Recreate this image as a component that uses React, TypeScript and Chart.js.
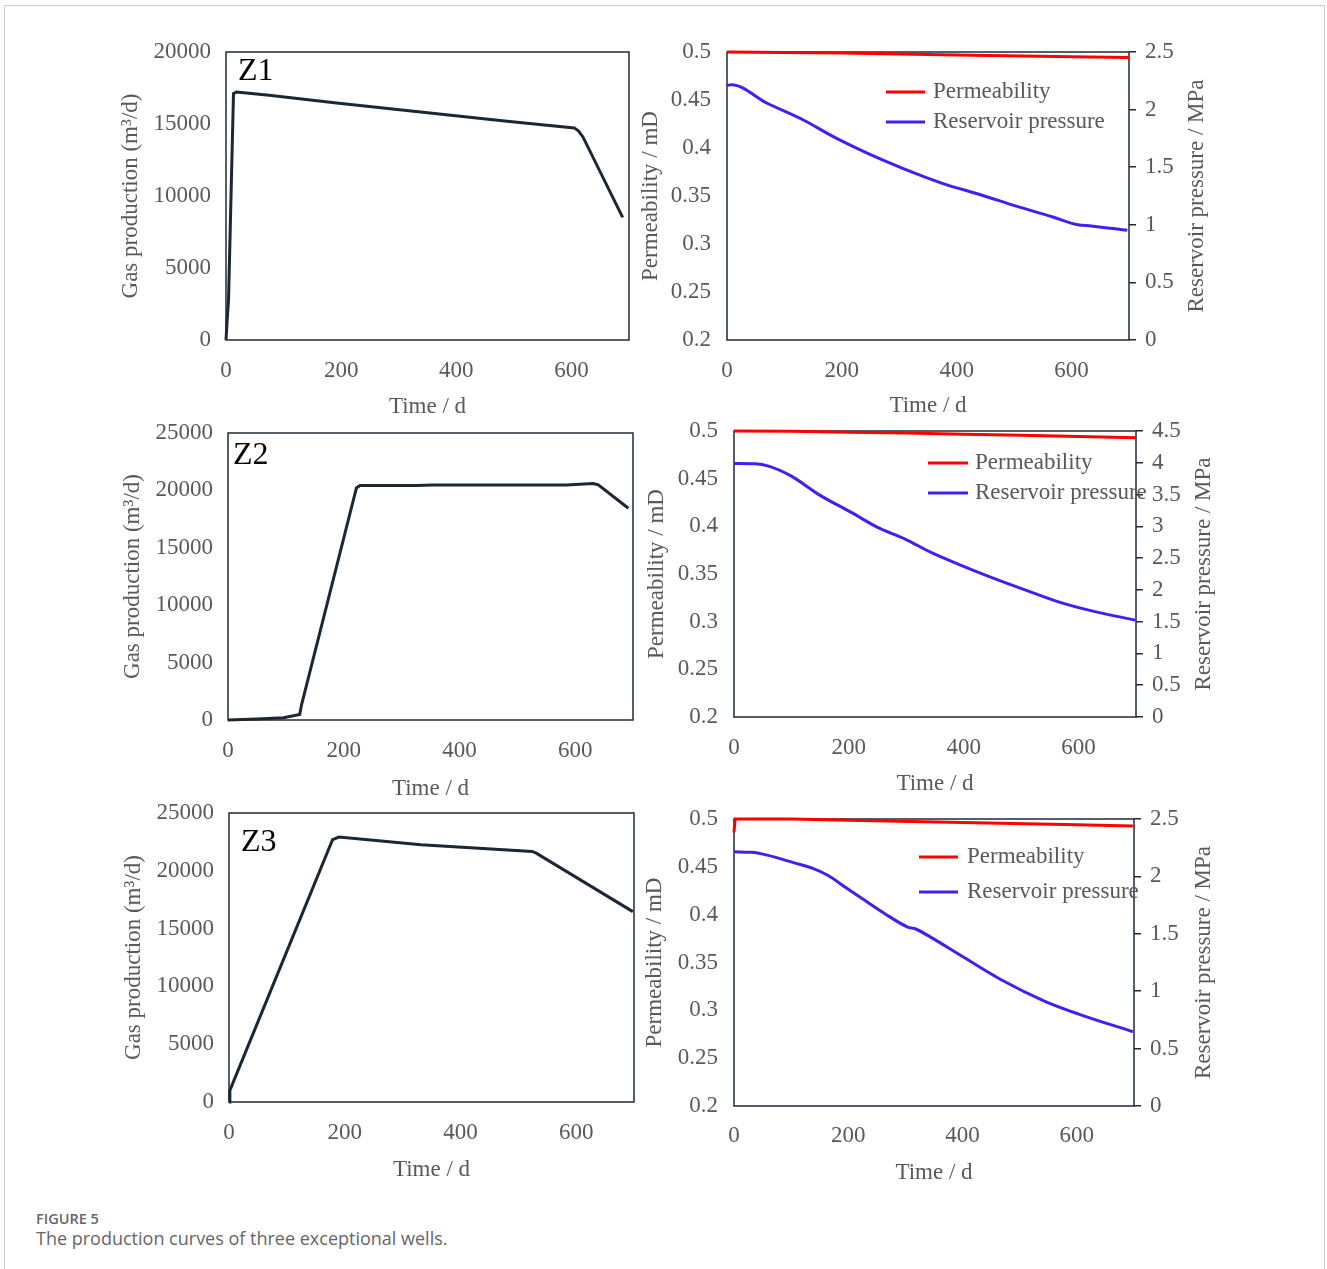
import React, { useEffect, useRef } from "react";
import { Chart, registerables } from "chart.js";

Chart.register(...registerables);

const SERIF = '"Liberation Serif", "Times New Roman", serif';
const TEXT = "#595959";
const AXIS = "#1f2b38";
const PROD = "#1b2733";
const RED = "#ff0000";
const BLUE = "#4020f0";
const FS = 23;

// ---- shared axes ----
const xTicks = [0, 200, 400, 600];
const xMax = 700;
const gasTicksZ1 = [0, 5000, 10000, 15000, 20000];
const gasTicksZ23 = [0, 5000, 10000, 15000, 20000, 25000];
const permTicks = [0.2, 0.25, 0.3, 0.35, 0.4, 0.45, 0.5];
const presTicksZ13 = [0, 0.5, 1, 1.5, 2, 2.5];
const presTicksZ2 = [0, 0.5, 1, 1.5, 2, 2.5, 3, 3.5, 4, 4.5];

// ---- Z1 ----
const z1GasDays = [0, 2, 4.4, 13, 18, 75, 192, 338, 484, 605, 612, 620, 689];
const z1Gas = [0, 1390, 2775, 17110, 17225, 16990, 16460, 15840, 15215, 14730, 14520, 14100, 8510];
const z1PermDays = [0, 200, 400, 600, 700];
const z1Perm = [0.5, 0.499, 0.4969, 0.4951, 0.4944];
const z1PresDays = [0, 8, 70, 133, 185, 245, 306, 375, 444, 505, 566, 611, 634, 697];
const z1Pres = [2.21, 2.216, 2.055, 1.91, 1.765, 1.62, 1.49, 1.36, 1.257, 1.16, 1.07, 1.0, 0.99, 0.952];

// ---- Z2 ----
const z2GasDays = [0, 50, 96, 124, 127, 222, 228, 326, 354, 585, 631, 640, 692];
const z2Gas = [0, 80, 200, 490, 1300, 20220, 20420, 20420, 20480, 20480, 20600, 20480, 18450];
const z2PermDays = [0, 100, 200, 300, 400, 500, 600, 700];
const z2Perm = [0.5, 0.4998, 0.4988, 0.4978, 0.4966, 0.4955, 0.4943, 0.493];
const z2PresDays = [0, 37, 60, 100, 147, 205, 251, 298, 344, 391, 449, 507, 565, 623, 699];
const z2Pres = [3.99, 3.984, 3.948, 3.79, 3.503, 3.215, 2.979, 2.8, 2.586, 2.403, 2.194, 2.0, 1.812, 1.67, 1.524];

// ---- Z3 ----
const z3GasDays = [0, 1.5, 179, 190, 332, 524, 531, 698];
const z3Gas = [0, 1010, 22690, 22920, 22250, 21680, 21530, 16470];
const z3PermDays = [0, 1, 2, 100, 200, 400, 600, 698];
const z3Perm = [0.486, 0.486, 0.5, 0.5, 0.4988, 0.4963, 0.4939, 0.4927];
const z3PresDays = [0, 31, 58, 104, 138, 164, 198, 224, 264, 304, 317, 344, 397, 470, 544, 603, 698];
const z3Pres = [2.214, 2.21, 2.185, 2.12, 2.07, 2.01, 1.894, 1.807, 1.675, 1.559, 1.544, 1.471, 1.311, 1.093, 0.912, 0.801, 0.647];

const pts = (xs: number[], ys: number[]) => xs.map((x, i) => ({ x, y: ys[i] }));
const fmt = (v: any) => String(+Number(v).toFixed(2));
const fontMain = { family: SERIF, size: FS };

const framePlugin = {
  id: "frame",
  beforeDatasetsDraw(chart: any) {
    const { ctx, chartArea } = chart;
    const { left, top, right, bottom } = chartArea;
    ctx.save();
    ctx.strokeStyle = AXIS;
    ctx.lineWidth = 1.5;
    ctx.strokeRect(left, top, right - left, bottom - top);
    ctx.restore();
  },
  afterDatasetsDraw(chart: any, _a: any, opts: any) {
    const { ctx, chartArea } = chart;
    const { left, top, right, bottom } = chartArea;
    ctx.save();
    if (opts.well) {
      ctx.font = `32px ${SERIF}`;
      ctx.fillStyle = "#000";
      ctx.textBaseline = "middle";
      ctx.textAlign = "left";
      ctx.fillText(opts.well, left + opts.wellDx, top + opts.wellDy);
    }
    if (opts.legend) {
      const lg = opts.legend;
      chart.data.datasets.forEach((ds: any, i: number) => {
        const y = top + lg.y[i];
        ctx.strokeStyle = ds.borderColor;
        ctx.lineWidth = 3;
        ctx.beginPath();
        ctx.moveTo(left + lg.x0, y);
        ctx.lineTo(left + lg.x1, y);
        ctx.stroke();
        ctx.font = `${FS}px ${SERIF}`;
        ctx.fillStyle = TEXT;
        ctx.textBaseline = "middle";
        ctx.textAlign = "left";
        ctx.fillText(ds.label, left + lg.tx, y);
      });
    }
    if (opts.rightTitle) {
      ctx.translate(right + opts.rightTitleDx, (top + bottom) / 2);
      ctx.rotate(-Math.PI / 2);
      ctx.font = `${FS}px ${SERIF}`;
      ctx.fillStyle = TEXT;
      ctx.textAlign = "center";
      ctx.textBaseline = "middle";
      ctx.fillText(opts.rightTitle, 0, 0);
    }
    ctx.restore();
  },
};

const noGrid = { display: false, drawTicks: false, tickLength: 0 };

function xScale(s: any) {
  return {
    type: "linear",
    position: "bottom",
    min: 0,
    max: xMax,
    grid: noGrid,
    border: { display: false },
    ticks: { padding: s.xTickPad, color: TEXT, font: fontMain, maxRotation: 0, autoSkip: false, callback: (v: any) => String(v) },
    afterBuildTicks: (sc: any) => { sc.ticks = xTicks.map((v) => ({ value: v })); },
    title: { display: true, text: "Time / d", color: TEXT, font: fontMain, padding: { top: 0, bottom: s.xTitlePad } },
    afterFit: (sc: any) => { sc.height = s.hx; sc.paddingLeft = 0; sc.paddingRight = 0; },
  };
}

function leftConfig(s: any): any {
  return {
    type: "line",
    data: {
      datasets: [
        { label: "Gas production", data: pts(s.days, s.gas), borderColor: PROD, borderWidth: 3, pointRadius: 0, tension: 0, clip: 4 },
      ],
    },
    options: {
      responsive: false,
      animation: false,
      events: [],
      layout: { padding: { top: s.pt, right: s.pr, left: 0, bottom: 0 } },
      plugins: {
        legend: { display: false },
        tooltip: { enabled: false },
        frame: { well: s.well, wellDx: s.wellDx, wellDy: s.wellDy },
      },
      scales: {
        x: xScale(s),
        y: {
          type: "linear",
          position: "left",
          min: 0,
          max: s.gasTicks[s.gasTicks.length - 1],
          grid: noGrid,
          border: { display: false },
          ticks: { padding: s.yTickPad, color: TEXT, font: fontMain, autoSkip: false, callback: (v: any) => String(v) },
          afterBuildTicks: (sc: any) => { sc.ticks = s.gasTicks.map((v: number) => ({ value: v })); },
          title: { display: true, text: "Gas production (m³/d)", color: TEXT, font: fontMain, padding: { top: s.yTitlePad, bottom: 0 } },
          afterFit: (sc: any) => { sc.width = s.wl; sc.paddingTop = 0; sc.paddingBottom = 0; },
        },
      },
    },
    plugins: [framePlugin],
  };
}

function rightConfig(s: any): any {
  return {
    type: "line",
    data: {
      datasets: [
        { label: "Permeability", data: pts(s.permDays, s.perm), yAxisID: "y", borderColor: RED, borderWidth: 3, pointRadius: 0, tension: 0, clip: 4 },
        { label: "Reservoir pressure", data: pts(s.presDays, s.pres), yAxisID: "y1", borderColor: BLUE, borderWidth: 3, pointRadius: 0, cubicInterpolationMode: "monotone", clip: 4 },
      ],
    },
    options: {
      responsive: false,
      animation: false,
      events: [],
      layout: { padding: { top: s.pt, right: s.pr, left: 0, bottom: 0 } },
      plugins: {
        legend: { display: false },
        tooltip: { enabled: false },
        frame: { legend: s.legend, rightTitle: "Reservoir pressure / MPa", rightTitleDx: s.rightTitleDx },
      },
      scales: {
        x: xScale(s),
        y: {
          type: "linear",
          position: "left",
          min: 0.2,
          max: 0.5,
          grid: noGrid,
          border: { display: false },
          ticks: { padding: s.yTickPad, color: TEXT, font: fontMain, autoSkip: false, callback: fmt },
          afterBuildTicks: (sc: any) => { sc.ticks = permTicks.map((v) => ({ value: v })); },
          title: { display: true, text: "Permeability / mD", color: TEXT, font: fontMain, padding: { top: s.yTitlePad, bottom: 0 } },
          afterFit: (sc: any) => { sc.width = s.wl; sc.paddingTop = 0; sc.paddingBottom = 0; },
        },
        y1: {
          type: "linear",
          position: "right",
          min: 0,
          max: s.presTicks[s.presTicks.length - 1],
          grid: { display: true, drawOnChartArea: false, drawTicks: true, tickLength: 7, color: AXIS, lineWidth: 1.5 },
          border: { display: false },
          ticks: { padding: 9, color: TEXT, font: fontMain, autoSkip: false, callback: fmt },
          afterBuildTicks: (sc: any) => { sc.ticks = s.presTicks.map((v: number) => ({ value: v })); },
          title: { display: false },
          afterFit: (sc: any) => { sc.width = s.wr; sc.paddingTop = 0; sc.paddingBottom = 0; },
        },
      },
    },
    plugins: [framePlugin],
  };
}

const panels: any[] = [
  {
    kind: "left", L: 100, T: 28, W: 535, H: 400, pt: 24, pr: 6, wl: 126, hx: 88,
    yTickPad: 15, xTickPad: 17, xTitlePad: 7, yTitlePad: 17,
    days: z1GasDays, gas: z1Gas, gasTicks: gasTicksZ1, well: "Z1", wellDx: 12, wellDy: 20,
  },
  {
    kind: "right", L: 620, T: 28, W: 620, H: 400, pt: 24, pr: 0, wl: 107, wr: 111, hx: 88,
    yTickPad: 16, xTickPad: 17, xTitlePad: 8, yTitlePad: 17, rightTitleDx: 68,
    permDays: z1PermDays, perm: z1Perm, presDays: z1PresDays, pres: z1Pres, presTicks: presTicksZ13,
    legend: { x0: 159, x1: 198, tx: 206, y: [40, 70] },
  },
  {
    kind: "left", L: 100, T: 409, W: 535, H: 399, pt: 24, pr: 2, wl: 128, hx: 88,
    yTickPad: 15, xTickPad: 17, xTitlePad: 5, yTitlePad: 19,
    days: z2GasDays, gas: z2Gas, gasTicks: gasTicksZ23, well: "Z2", wellDx: 5, wellDy: 23,
  },
  {
    kind: "right", L: 620, T: 407, W: 620, H: 398, pt: 24, pr: 0, wl: 114, wr: 104, hx: 88,
    yTickPad: 16, xTickPad: 17, xTitlePad: 7, yTitlePad: 23, rightTitleDx: 68,
    permDays: z2PermDays, perm: z2Perm, presDays: z2PresDays, pres: z2Pres, presTicks: presTicksZ2,
    legend: { x0: 194, x1: 234, tx: 241, y: [32, 62] },
  },
  {
    kind: "left", L: 100, T: 789, W: 540, H: 401, pt: 24, pr: 6, wl: 129, hx: 88,
    yTickPad: 15, xTickPad: 17, xTitlePad: 6, yTitlePad: 20,
    days: z3GasDays, gas: z3Gas, gasTicks: gasTicksZ23, well: "Z3", wellDx: 12, wellDy: 30,
  },
  {
    kind: "right", L: 620, T: 795, W: 620, H: 399, pt: 24, pr: 0, wl: 114, wr: 106, hx: 88,
    yTickPad: 16, xTickPad: 16, xTitlePad: 7, yTitlePad: 21, rightTitleDx: 70,
    permDays: z3PermDays, perm: z3Perm, presDays: z3PresDays, pres: z3Pres, presTicks: presTicksZ13,
    legend: { x0: 185, x1: 224, tx: 233, y: [38, 73] },
  },
];

function Panel({ s }: { s: any }) {
  const ref = useRef<HTMLCanvasElement>(null);
  useEffect(() => {
    const cfg = s.kind === "left" ? leftConfig(s) : rightConfig(s);
    const chart = new Chart(ref.current as HTMLCanvasElement, cfg);
    return () => chart.destroy();
  }, []);
  return (
    <canvas
      ref={ref}
      width={s.W}
      height={s.H}
      style={{ position: "absolute", left: s.L, top: s.T, width: s.W, height: s.H }}
    />
  );
}

export default function App() {
  return (
    <div style={{ position: "absolute", left: 0, top: 0, width: 1327, height: 1269, overflow: "hidden", background: "#fff" }}>
      <div style={{ position: "absolute", left: 4, top: 5, width: 1321, height: 1280, border: "1px solid #cccccc", boxSizing: "border-box" }} />
      {panels.map((s, i) => (
        <Panel key={i} s={s} />
      ))}
      <div style={{ position: "absolute", left: 36, top: 1210, fontFamily: '"Open Sans", sans-serif', fontWeight: 600, fontSize: 14.5, lineHeight: "18px", color: "#666" }}>
        FIGURE 5
      </div>
      <div style={{ position: "absolute", left: 36, top: 1227, fontFamily: '"Open Sans", sans-serif', fontWeight: 400, fontSize: 18, lineHeight: "22px", color: "#666" }}>
        The production curves of three exceptional wells.
      </div>
    </div>
  );
}
